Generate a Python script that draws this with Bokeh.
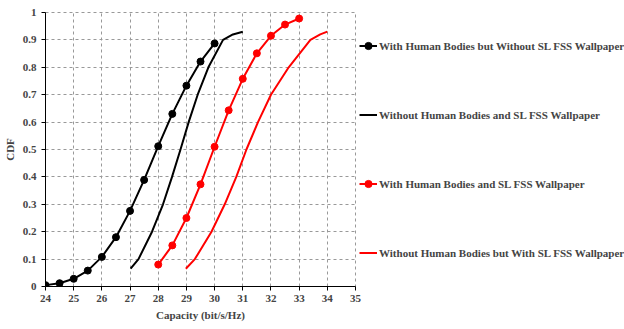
from bokeh.plotting import figure
from bokeh.models import Legend, LegendItem, FixedTicker, CustomJSTickFormatter, Range1d
from bokeh.embed import file_html
from bokeh.resources import INLINE

# Series 1: with human bodies, without SL FSS wallpaper (black, markers)
x_hb_no = [24, 24.5, 25, 25.5, 26, 26.5, 27, 27.5, 28, 28.5, 29, 29.5, 30]
y_hb_no = [0.005, 0.012, 0.028, 0.058, 0.108, 0.18, 0.276, 0.389, 0.512, 0.63, 0.733, 0.821, 0.887]

# Series 2: without human bodies and SL FSS wallpaper (black line)
x_nohb_no = [27.02, 27.3, 27.78, 28.17, 28.49, 28.79, 29.08, 29.4, 29.78, 30.3, 30.65, 31.0]
y_nohb_no = [0.065, 0.1, 0.2, 0.3, 0.4, 0.5, 0.6, 0.7, 0.8, 0.9, 0.92, 0.93]

# Series 3: with human bodies and SL FSS wallpaper (red, markers)
x_hb_fss = [28, 28.5, 29, 29.5, 30, 30.5, 31, 31.5, 32, 32.5, 33]
y_hb_fss = [0.08, 0.15, 0.25, 0.373, 0.51, 0.643, 0.758, 0.851, 0.915, 0.956, 0.978]

# Series 4: without human bodies but with SL FSS wallpaper (red line)
x_nohb_fss = [28.98, 29.3, 29.89, 30.36, 30.77, 31.13, 31.54, 32.0, 32.63, 33.4, 33.75, 34.0]
y_nohb_fss = [0.065, 0.1, 0.2, 0.3, 0.4, 0.5, 0.6, 0.7, 0.8, 0.9, 0.92, 0.93]

x_ticks = list(range(24, 36))
y_ticks = [i / 10 for i in range(11)]

labels = [
    "With Human Bodies but Without SL FSS Wallpaper",
    "Without Human Bodies and SL FSS Wallpaper",
    "With Human Bodies and SL FSS Wallpaper",
    "Without Human Bodies but With SL FSS Wallpaper",
]

FONT = "Liberation Serif"

p = figure(frame_width=310, frame_height=274, output_backend="svg", toolbar_location=None,
           x_range=Range1d(24, 35), y_range=Range1d(0, 1),
           min_border_left=42, min_border_right=0, min_border_top=12, min_border_bottom=43)
p.background_fill_color = "white"
p.border_fill_color = "white"
p.outline_line_color = "#999999"
p.outline_line_dash = "3 3"

r1l = p.line(x_hb_no, y_hb_no, line_color="black", line_width=2)
r1m = p.scatter(x_hb_no, y_hb_no, size=7, fill_color="black", line_color="black")
r2 = p.line(x_nohb_no, y_nohb_no, line_color="black", line_width=2)
r3l = p.line(x_hb_fss, y_hb_fss, line_color="red", line_width=2)
r3m = p.scatter(x_hb_fss, y_hb_fss, size=7, fill_color="red", line_color="red")
r4 = p.line(x_nohb_fss, y_nohb_fss, line_color="red", line_width=2)

for ax in (p.xaxis[0], p.yaxis[0]):
    ax.axis_line_color = "black"
    ax.axis_line_width = 1
    ax.major_tick_line_color = "black"
    ax.major_tick_out = 4
    ax.major_tick_in = 0
    ax.minor_tick_line_color = None
    ax.major_label_text_font = FONT
    ax.major_label_text_font_style = "bold"
    ax.major_label_text_font_size = "11px"
    ax.axis_label_text_font = FONT
    ax.axis_label_text_font_style = "bold"
    ax.axis_label_text_font_size = "11px"

p.xaxis.ticker = FixedTicker(ticks=x_ticks)
p.yaxis.ticker = FixedTicker(ticks=y_ticks)
p.yaxis.formatter = CustomJSTickFormatter(code="return tick.toFixed(1).replace(/\\.0$/, '');")
p.xaxis.axis_label = "Capacity (bit/s/Hz)"
p.yaxis.axis_label = "CDF"
p.xaxis.major_label_standoff = 4
p.yaxis.major_label_standoff = 5
p.xaxis.axis_label_standoff = 4
p.yaxis.axis_label_standoff = 4

for g in (p.xgrid[0], p.ygrid[0]):
    g.grid_line_color = "#999999"
    g.grid_line_dash = "3 3"
    g.grid_line_width = 1

legend = Legend(items=[
    LegendItem(label=labels[0], renderers=[r1l, r1m]),
    LegendItem(label=labels[1], renderers=[r2]),
    LegendItem(label=labels[2], renderers=[r3l, r3m]),
    LegendItem(label=labels[3], renderers=[r4]),
], location="center_left")
legend.padding = 0
legend.margin = 4
legend.spacing = 49
legend.glyph_height = 20
legend.glyph_width = 18
legend.label_standoff = 2
legend.label_text_font = FONT
legend.label_text_font_style = "bold"
legend.label_text_font_size = "11px"
legend.border_line_alpha = 0
legend.background_fill_alpha = 0
p.add_layout(legend, "right")

open("out.html", "w").write(file_html(p, INLINE))
